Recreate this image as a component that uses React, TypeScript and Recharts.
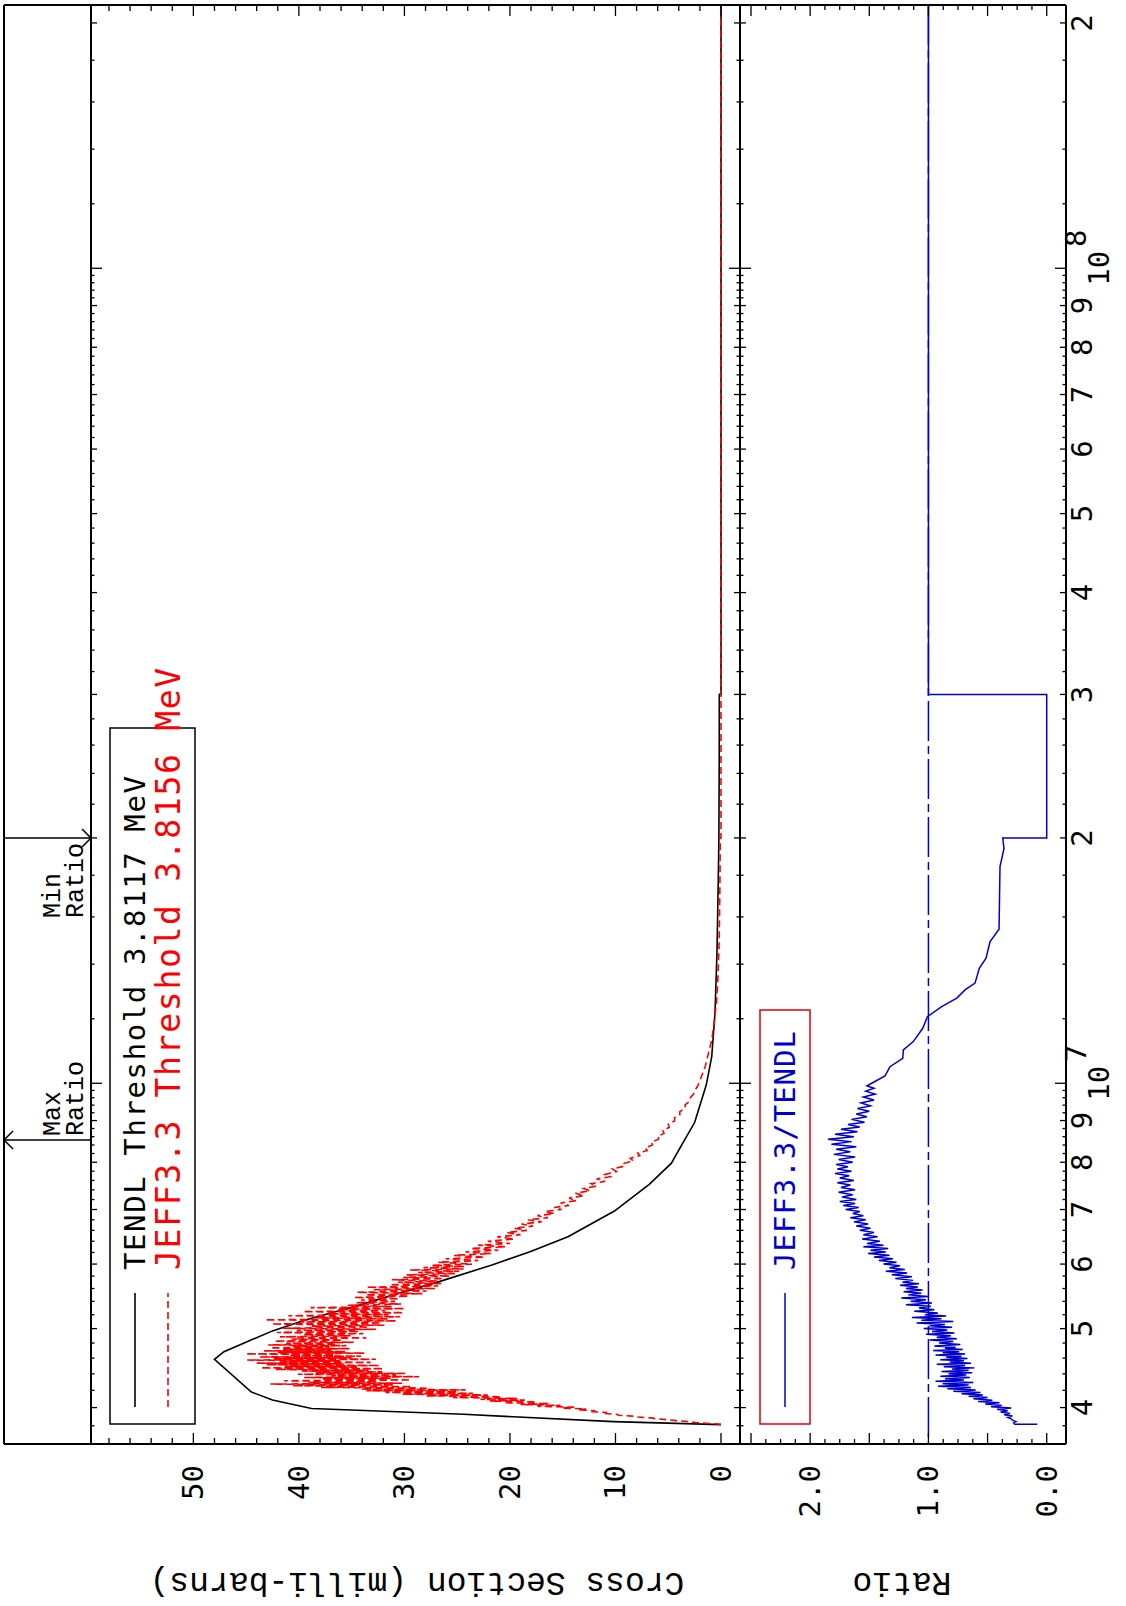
import React from "react";
import { LineChart, Line, XAxis, YAxis, ReferenceLine } from "recharts";

// energies in MeV, cross sections in milli-barns
const TENDL_E = [3.8117, 3.844, 3.925, 3.99, 4.087, 4.18, 4.585, 4.685, 4.968, 5.124, 5.32, 5.473, 5.71, 5.985, 6.214, 6.483, 6.97, 7.517, 7.98, 8.456, 8.95, 9.95, 10.78, 12.19, 14.5, 17.76, 20, 25, 30, 30, 210];
const TENDL_XS = [0, 10.2, 24.4, 38.8, 42.5, 44.5, 48.0, 47.1, 42.5, 39.4, 34.8, 31.6, 26.7, 21.7, 18.1, 14.5, 10.1, 6.8, 4.7, 3.6, 2.5, 1.4, 0.88, 0.57, 0.38, 0.26, 0.2, 0.17, 0.16, 0, 0];

const JEFF_E = [
  3.8156, 3.825, 3.835, 3.845, 3.855, 3.865, 3.875, 3.885, 3.895, 3.905, 3.915, 3.925, 3.935, 3.945, 3.955, 3.965, 3.975, 3.985, 3.995,
  4.005, 4.015, 4.025, 4.035, 4.045, 4.055, 4.065, 4.075, 4.085, 4.095, 4.105, 4.115, 4.125, 4.135, 4.145, 4.155, 4.165, 4.175, 4.185, 4.195,
  4.205, 4.215, 4.225, 4.235, 4.245, 4.255, 4.265, 4.275, 4.285, 4.295, 4.305, 4.315, 4.325, 4.335, 4.345, 4.355, 4.365, 4.375, 4.385, 4.395,
  4.405, 4.415, 4.425, 4.435, 4.445, 4.455, 4.465, 4.475, 4.485, 4.495, 4.505, 4.515, 4.525, 4.535, 4.545, 4.555, 4.565, 4.575, 4.585, 4.595,
  4.605, 4.615, 4.625, 4.635, 4.645, 4.655, 4.665, 4.675, 4.685, 4.695, 4.705, 4.715, 4.725, 4.735, 4.745, 4.755, 4.765, 4.775, 4.785, 4.795,
  4.81, 4.825, 4.84, 4.855, 4.87, 4.885, 4.9, 4.915, 4.93, 4.945, 4.96, 4.975, 4.99, 5.005, 5.02, 5.035, 5.05, 5.065, 5.08, 5.095,
  5.11, 5.125, 5.14, 5.155, 5.17, 5.185, 5.2, 5.215, 5.23, 5.245, 5.26, 5.275, 5.29, 5.305, 5.32, 5.34, 5.36, 5.38, 5.4, 5.42,
  5.44, 5.46, 5.48, 5.5, 5.52, 5.54, 5.56, 5.58, 5.6, 5.62, 5.64, 5.66, 5.68, 5.7, 5.72, 5.74, 5.76, 5.78, 5.8, 5.82,
  5.84, 5.86, 5.88, 5.9, 5.92, 5.94, 5.96, 5.98, 6.0, 6.03, 6.06, 6.09, 6.12, 6.15, 6.18, 6.21, 6.24, 6.27, 6.3, 6.33,
  6.36, 6.4, 6.44, 6.48, 6.52, 6.56, 6.6, 6.64, 6.68, 6.72, 6.76, 6.8, 6.84, 6.88, 6.92, 6.96, 7.0, 7.04, 7.08, 7.13,
  7.18, 7.23, 7.28, 7.33, 7.38, 7.43, 7.48, 7.53, 7.58, 7.63, 7.68, 7.73, 7.79, 7.85, 7.91, 7.97, 8.03, 8.09, 8.15, 8.21,
  8.27, 8.33, 8.4, 8.47, 8.54, 8.61, 8.68, 8.75, 8.83, 8.91, 8.99, 9.07, 9.15, 9.23, 9.32, 9.41, 9.5, 9.6, 9.7, 9.8,
  9.9, 10.0, 10.48, 11.3, 12.0, 12.65, 13.5, 14.71, 16.0, 17.76, 20.0, 20.0, 210,
];
const JEFF_XS = [
  0, 1.2, 2.4, 3.1, 4.2, 5.0, 6.1, 6.6, 8.0, 8.4, 9.7, 9.9, 11.2, 10.8, 12.4, 11.9, 13.6, 12.8, 15.1,
  13.9, 17.4, 15.2, 19.0, 16.3, 20.6, 17.5, 21.9, 18.6, 22.8, 19.3, 25.4, 20.8, 27.9, 22.1, 30.2, 23.5, 31.8, 25.0, 33.6,
  24.2, 34.1, 27.7, 37.9, 29.3, 40.6, 31.0, 42.7, 30.2, 39.1, 32.6, 41.4, 29.4, 37.8, 31.3, 39.5, 28.6, 36.9, 30.8, 40.1,
  29.9, 38.4, 32.1, 39.7, 33.4, 42.2, 32.0, 43.6, 34.5, 41.3, 32.4, 43.1, 35.7, 44.0, 33.2, 41.8, 36.1, 44.9, 32.7, 42.4,
  35.0, 43.7, 34.1, 40.9, 36.6, 45.0, 33.8, 42.0, 35.6, 43.3, 36.9, 41.5, 35.2, 42.7, 37.1, 40.6, 35.5, 42.9, 36.4, 41.2,
  34.8, 42.3, 35.9, 40.7, 33.6, 41.8, 35.1, 39.6, 33.9, 42.1, 34.3, 40.2, 32.7, 41.5, 33.4, 38.8, 31.9, 42.6, 32.2, 39.9,
  30.8, 43.2, 31.6, 38.4, 30.4, 41.0, 31.5, 37.2, 30.1, 39.6, 31.8, 36.3, 30.0, 38.9, 31.2, 35.4, 30.3, 34.6, 30.9, 34.1,
  30.5, 34.8, 29.6, 33.7, 28.3, 34.5, 27.9, 32.9, 27.1, 33.6, 26.8, 31.4, 26.5, 30.6, 26.9, 31.2, 26.3, 30.1, 25.7, 29.8,
  25.2, 28.7, 24.8, 29.5, 24.4, 28.2, 24.3, 27.4, 23.6, 26.8, 23.0, 26.1, 22.4, 25.3, 21.8, 24.2, 21.1, 23.7, 20.4, 23.0,
  20.0, 22.1, 19.6, 21.2, 19.0, 20.3, 18.4, 19.6, 17.8, 18.9, 17.0, 18.3, 16.4, 17.4, 15.8, 16.7, 15.1, 15.8, 14.4, 15.2,
  13.7, 14.4, 13.0, 13.8, 12.4, 13.0, 11.8, 12.3, 11.0, 11.8, 10.5, 11.0, 9.9, 10.3, 9.2, 9.3, 8.3, 8.6, 7.7, 7.9,
  7.0, 7.2, 6.5, 6.6, 5.9, 6.0, 5.4, 5.5, 4.9, 5.0, 4.4, 4.4, 3.9, 3.9, 3.4, 3.4, 3.0, 2.9, 2.6, 2.5,
  2.25, 2.1, 1.5, 0.88, 0.6, 0.41, 0.29, 0.19, 0.14, 0.1, 0.07, 0, 0,
];

const RATIO_E = [
  3.8156, 3.816, 3.83, 3.845, 3.86, 3.875, 3.89, 3.905, 3.92, 3.935, 3.95, 3.965, 3.98, 3.995, 4.01, 4.025, 4.04, 4.055, 4.07, 4.085,
  4.1, 4.115, 4.13, 4.145, 4.16, 4.175, 4.19, 4.205, 4.22, 4.235, 4.25, 4.265, 4.28, 4.295, 4.31, 4.325, 4.34, 4.355, 4.37, 4.385,
  4.4, 4.415, 4.43, 4.445, 4.46, 4.475, 4.49, 4.505, 4.52, 4.535, 4.55, 4.565, 4.58, 4.595, 4.61, 4.625, 4.64, 4.655, 4.67, 4.685,
  4.7, 4.715, 4.73, 4.745, 4.76, 4.78, 4.8, 4.82, 4.84, 4.86, 4.88, 4.9, 4.92, 4.94, 4.96, 4.98, 5.0, 5.02, 5.04, 5.06,
  5.08, 5.1, 5.12, 5.14, 5.16, 5.18, 5.2, 5.225, 5.25, 5.275, 5.3, 5.325, 5.35, 5.375, 5.4, 5.425, 5.45, 5.475, 5.5, 5.525,
  5.55, 5.575, 5.6, 5.625, 5.65, 5.675, 5.7, 5.73, 5.76, 5.79, 5.82, 5.85, 5.88, 5.91, 5.94, 5.97, 6.0, 6.03, 6.06, 6.09,
  6.12, 6.15, 6.18, 6.21, 6.24, 6.27, 6.3, 6.33, 6.36, 6.4, 6.44, 6.48, 6.52, 6.56, 6.6, 6.64, 6.68, 6.72, 6.76, 6.8,
  6.84, 6.88, 6.92, 6.96, 7.0, 7.04, 7.08, 7.12, 7.16, 7.2, 7.25, 7.3, 7.35, 7.4, 7.45, 7.5, 7.55, 7.6, 7.65, 7.7,
  7.75, 7.8, 7.85, 7.9, 7.95, 8.0, 8.06, 8.12, 8.18, 8.24, 8.3, 8.36, 8.42, 8.48, 8.54, 8.6, 8.66, 8.72, 8.78, 8.84,
  8.9, 8.96, 9.03, 9.1, 9.17, 9.24, 9.31, 9.38, 9.46, 9.54, 9.62, 9.7, 9.78, 9.86, 9.93, 10.0,
  10.21, 10.48, 10.73, 10.99, 11.25, 11.68, 12.07, 12.42, 12.72, 13.02, 13.27, 13.84, 14.24, 14.92, 15.45, 18.44, 19.42, 19.99, 20.0, 30.0, 30.0, 210,
];
const RATIO = [
  0.08, 0.27, 0.28, 0.26, 0.29, 0.3, 0.33, 0.29, 0.36, 0.31, 0.39, 0.33, 0.42, 0.3, 0.47, 0.38, 0.52, 0.4, 0.58, 0.46,
  0.62, 0.5, 0.66, 0.54, 0.72, 0.56, 0.79, 0.6, 0.84, 0.64, 0.92, 0.66, 0.88, 0.62, 0.94, 0.7, 0.86, 0.65, 0.9, 0.68,
  0.83, 0.63, 0.89, 0.66, 0.8, 0.61, 0.87, 0.69, 0.93, 0.64, 0.82, 0.7, 0.9, 0.67, 0.85, 0.72, 0.94, 0.69, 0.88, 0.74,
  0.96, 0.71, 0.86, 0.77, 0.95, 0.73, 0.91, 0.79, 0.99, 0.76, 0.93, 0.81, 1.02, 0.78, 0.97, 0.84, 1.04, 0.8, 0.99, 0.86,
  1.1, 0.79, 1.06, 0.89, 1.14, 0.85, 1.03, 0.92, 1.12, 0.95, 1.08, 0.98, 1.19, 0.97, 1.15, 1.02, 1.23, 1.0, 1.17, 1.06,
  1.21, 1.05, 1.19, 1.09, 1.24, 1.08, 1.22, 1.13, 1.28, 1.14, 1.31, 1.18, 1.36, 1.2, 1.33, 1.24, 1.38, 1.27, 1.42, 1.3,
  1.46, 1.33, 1.51, 1.36, 1.49, 1.34, 1.55, 1.38, 1.52, 1.41, 1.56, 1.43, 1.55, 1.46, 1.58, 1.49, 1.61, 1.51, 1.63, 1.53,
  1.66, 1.55, 1.64, 1.58, 1.7, 1.59, 1.72, 1.62, 1.75, 1.61, 1.73, 1.64, 1.76, 1.62, 1.74, 1.66, 1.77, 1.63, 1.75, 1.67,
  1.79, 1.65, 1.77, 1.68, 1.78, 1.64, 1.76, 1.62, 1.8, 1.66, 1.78, 1.61, 1.82, 1.65, 1.85, 1.63, 1.79, 1.6, 1.74, 1.58,
  1.68, 1.54, 1.65, 1.52, 1.61, 1.5, 1.6, 1.49, 1.57, 1.46, 1.55, 1.45, 1.53, 1.46, 1.52, 1.48,
  1.367, 1.325, 1.217, 1.212, 1.128, 1.048, 1.009, 0.888, 0.76, 0.691, 0.606, 0.57, 0.513, 0.479, 0.403, 0.395, 0.361, 0.372, 0, 0, 1.0, 1.0,
];

const MAX_RATIO_E = 8.52;
const MIN_RATIO_E = 20.0;

const XS_LABELS = [0, 10, 20, 30, 40, 50];
const RATIO_LABELS = ["0.0", "1.0", "2.0"];
const DECADES = [1e6, 1e7, 1e8];

// layout (unrotated chart coordinates, the whole thing is turned -90deg afterwards)
const W = 1606;
const H = 1126;
const PLOT_L = 162;
const PLOT_R = 1601;
const FRAME_T = 4;
const P1_TOP = 91;
const MID = 740;
const BOTTOM = 1066;
const E_MIN = 3.609e6;
const E_MAX = 2.104e8;
const XS_LO = -1.8;
const XS_HI = 59.7;
const R_LO = -0.163;
const R_HI = 2.593;

const xsPerPx = (XS_HI - XS_LO) / (MID - P1_TOP);
const xsDomain = [XS_LO - (BOTTOM - MID) * xsPerPx, XS_HI + (P1_TOP - FRAME_T) * xsPerPx];
const rPerPx = (R_HI - R_LO) / (BOTTOM - MID);
const rDomain = [R_LO, R_HI + (MID - FRAME_T) * rPerPx];
const hPerPx = 1 / (P1_TOP - FRAME_T);
const hdrDomain = [-(BOTTOM - P1_TOP) * hPerPx, 1];

const MANTISSAS: number[] = [];
for (let k = 10; k < 100; k += 2) MANTISSAS.push(k / 10);
const ENERGY_TICKS = DECADES.flatMap((d) => MANTISSAS.map((m) => Number((m * d).toPrecision(6)))).filter(
  (e) => e >= E_MIN && e <= E_MAX
);
const XS_TICKS: number[] = [];
for (let v = 0; v <= 58; v += 2) XS_TICKS.push(v);
const RATIO_TICKS: number[] = [];
for (let k = 0; k <= 20; k++) RATIO_TICKS.push(k * 0.125);

const rows = (es: number[], vs: number[]) => es.map((e, i) => ({ e: e * 1e6, v: vs[i] }));
const tendlRows = rows(TENDL_E, TENDL_XS);
const jeffRows = rows(JEFF_E, JEFF_XS);
const ratioRows = rows(RATIO_E, RATIO);
const maxArrowRows = rows([MAX_RATIO_E, MAX_RATIO_E], [0, 1]);
const minArrowRows = rows([MIN_RATIO_E, MIN_RATIO_E], [0, 1]);

const BLUE = "#0000cd";
const RED = "#ff0000";
const MONO = "DejaVu Sans Mono";
const COURIER = "Liberation Mono";

function EnergyTick(props: any) {
  const { x, payload } = props;
  const e = payload.value;
  const exp = Math.floor(Math.log10(e) + 1e-9);
  const m = Math.round((e / Math.pow(10, exp)) * 10) / 10;
  const decade = m === 1;
  const whole = !decade && Number.isInteger(m);
  const len = decade ? 11 : whole ? 6 : 3.5;
  return (
    <g stroke="#000" strokeWidth={1.3}>
      <line x1={x} x2={x} y1={P1_TOP} y2={P1_TOP + len} />
      <line x1={x} x2={x} y1={MID - len} y2={MID + len} />
      <line x1={x} x2={x} y1={BOTTOM - len} y2={BOTTOM} />
      {whole && (
        <text x={x} y={1082} textAnchor="middle" dominantBaseline="central" stroke="none" fill="#000" fontFamily={MONO} fontSize={29}>
          {m}
        </text>
      )}
      {decade && (
        <g stroke="none" fill="#000" fontFamily={MONO} fontSize={29}>
          <text x={x} y={1099} textAnchor="middle" dominantBaseline="central">10</text>
          <text x={x + 30} y={1076} textAnchor="middle" dominantBaseline="central">{exp}</text>
        </g>
      )}
    </g>
  );
}

function XsTick(props: any) {
  const { y, payload } = props;
  const v = payload.value;
  const major = v % 10 === 0;
  const len = major ? 11 : 6;
  return (
    <g stroke="#000" strokeWidth={1.3}>
      <line x1={PLOT_L} x2={PLOT_L + len} y1={y} y2={y} />
      <line x1={PLOT_R - len} x2={PLOT_R} y1={y} y2={y} />
      {XS_LABELS.includes(v) && (
        <text x={141} y={y} textAnchor="end" dominantBaseline="central" stroke="none" fill="#000" fontFamily={MONO} fontSize={29}>
          {v}
        </text>
      )}
    </g>
  );
}

function RatioTick(props: any) {
  const { y, payload } = props;
  const v = payload.value;
  const major = Math.abs(v * 2 - Math.round(v * 2)) < 1e-6;
  const len = major ? 11 : 5;
  const label = Math.abs(v - Math.round(v)) < 1e-6 ? RATIO_LABELS[Math.round(v)] : null;
  return (
    <g stroke="#000" strokeWidth={1.3}>
      <line x1={PLOT_L} x2={PLOT_L + len} y1={y} y2={y} />
      <line x1={PLOT_R - len} x2={PLOT_R} y1={y} y2={y} />
      {label && (
        <text x={141} y={y} textAnchor="end" dominantBaseline="central" stroke="none" fill="#000" fontFamily={MONO} fontSize={29}>
          {label}
        </text>
      )}
    </g>
  );
}

function arrowDot(kind: "max" | "min") {
  return (p: any) => {
    const { cx, cy, index } = p;
    const k = `${kind}-${index}`;
    const txt = { fontFamily: COURIER, fontSize: 25, fill: "#000", stroke: "none" } as const;
    if (kind === "max" && index === 1) {
      return <polyline key={k} points={`${cx - 9},${cy + 9} ${cx},${cy} ${cx + 9},${cy + 9}`} fill="none" stroke="#000" strokeWidth={1.5} />;
    }
    if (kind === "min" && index === 0) {
      return (
        <g key={k}>
          <polyline points={`${cx - 9},${cy - 9} ${cx},${cy} ${cx + 9},${cy - 9}`} fill="none" stroke="#000" strokeWidth={1.5} />
          <text x={cx - 80} y={cy - 38} dominantBaseline="central" {...txt}>Min</text>
          <text x={cx - 80} y={cy - 15} dominantBaseline="central" {...txt}>Ratio</text>
        </g>
      );
    }
    if (kind === "max" && index === 0) {
      return (
        <g key={k}>
          <text x={cx + 4} y={cy - 38} dominantBaseline="central" {...txt}>Max</text>
          <text x={cx + 4} y={cy - 15} dominantBaseline="central" {...txt}>Ratio</text>
        </g>
      );
    }
    return <g key={k} />;
  };
}

export default function App() {
  return (
    <div
      style={{
        position: "absolute",
        left: 0,
        top: 0,
        width: W,
        height: H,
        transformOrigin: "0 0",
        transform: `translate(0px, ${W}px) rotate(-90deg)`,
        background: "#fff",
      }}
    >
      <LineChart width={W} height={H} margin={{ top: FRAME_T, right: 0, bottom: 0, left: 0 }}>
        <XAxis
          dataKey="e"
          type="number"
          scale="log"
          domain={[E_MIN, E_MAX]}
          allowDataOverflow
          ticks={ENERGY_TICKS}
          interval={0}
          height={H - BOTTOM}
          axisLine={false}
          tickLine={false}
          tick={(p: any) => <EnergyTick {...p} />}
        />
        <YAxis
          yAxisId="xs"
          orientation="left"
          width={PLOT_L}
          type="number"
          domain={xsDomain}
          allowDataOverflow
          ticks={XS_TICKS}
          interval={0}
          axisLine={false}
          tickLine={false}
          tick={(p: any) => <XsTick {...p} />}
        />
        <YAxis
          yAxisId="ratio"
          orientation="right"
          width={W - PLOT_R}
          type="number"
          domain={rDomain}
          allowDataOverflow
          ticks={RATIO_TICKS}
          interval={0}
          axisLine={false}
          tickLine={false}
          tick={(p: any) => <RatioTick {...p} />}
        />
        <YAxis yAxisId="hdr" hide type="number" domain={hdrDomain} allowDataOverflow />

        <ReferenceLine yAxisId="hdr" y={1} stroke="#000" strokeWidth={2} />
        <ReferenceLine yAxisId="xs" y={XS_HI} stroke="#000" strokeWidth={2} />
        <ReferenceLine yAxisId="xs" y={XS_LO} stroke="#000" strokeWidth={2} />
        <ReferenceLine yAxisId="ratio" y={R_LO} stroke="#000" strokeWidth={2} />
        <ReferenceLine yAxisId="xs" x={E_MIN} stroke="#000" strokeWidth={2} />
        <ReferenceLine yAxisId="xs" x={E_MAX} stroke="#000" strokeWidth={2} />
        <ReferenceLine yAxisId="ratio" y={1} stroke={BLUE} strokeWidth={1.5} strokeDasharray="40 5 8 5" />

        <Line yAxisId="hdr" data={maxArrowRows} dataKey="v" type="linear" stroke="#000" strokeWidth={1.5} dot={arrowDot("max")} isAnimationActive={false} />
        <Line yAxisId="hdr" data={minArrowRows} dataKey="v" type="linear" stroke="#000" strokeWidth={1.5} dot={arrowDot("min")} isAnimationActive={false} />

        <Line yAxisId="xs" data={tendlRows} dataKey="v" type="linear" stroke="#000" strokeWidth={1.6} dot={false} isAnimationActive={false} />
        <Line yAxisId="xs" data={jeffRows} dataKey="v" type="linear" stroke={RED} strokeWidth={1.6} strokeDasharray="7 4" dot={false} isAnimationActive={false} />
        <Line yAxisId="ratio" data={ratioRows} dataKey="v" type="linear" stroke={BLUE} strokeWidth={1.5} dot={false} isAnimationActive={false} />
      </LineChart>

      <svg width={W} height={H} style={{ position: "absolute", left: 0, top: 0, pointerEvents: "none" }}>
        <text transform="translate(25,417) rotate(-90)" textAnchor="middle" dominantBaseline="central" fontFamily={COURIER} fontSize={33}>
          Cross Section (milli-barns)
        </text>
        <text transform="translate(25,902) rotate(-90)" textAnchor="middle" dominantBaseline="central" fontFamily={COURIER} fontSize={33}>
          Ratio
        </text>

        <rect x={182} y={110} width={696} height={85} fill="#fff" stroke="#000" strokeWidth={1.5} />
        <line x1={199} x2={313} y1={135} y2={135} stroke="#000" strokeWidth={1.6} />
        <text x={336} y={135} dominantBaseline="central" fontFamily={MONO} fontSize={29} letterSpacing={1.6} fill="#000">
          TENDL Threshold 3.8117 MeV
        </text>
        <line x1={199} x2={313} y1={168} y2={168} stroke={RED} strokeWidth={1.6} strokeDasharray="7 4" />
        <text x={336} y={168} dominantBaseline="central" fontFamily={MONO} fontSize={33} letterSpacing={1.7} fill={RED}>
          JEFF3.3 Threshold 3.8156 MeV
        </text>

        <rect x={182} y={760} width={414} height={50} fill="#fff" stroke="#e00000" strokeWidth={1.5} />
        <line x1={199} x2={313} y1={785} y2={785} stroke={BLUE} strokeWidth={1.5} />
        <text x={336} y={785} dominantBaseline="central" fontFamily={MONO} fontSize={29} letterSpacing={1} fill={BLUE}>
          JEFF3.3/TENDL
        </text>
      </svg>
    </div>
  );
}
